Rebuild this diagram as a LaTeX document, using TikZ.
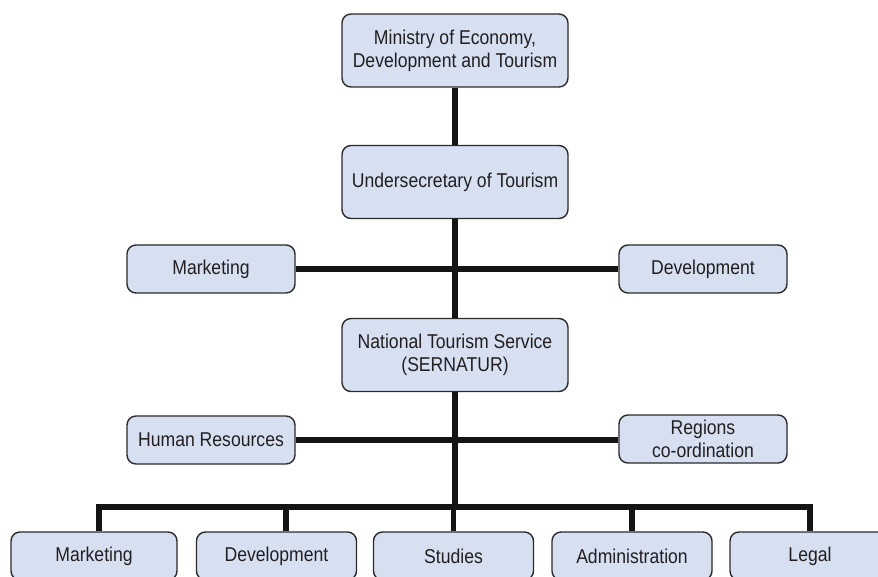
\documentclass[tikz,border=0pt]{standalone}
\usepackage{fontspec}
\setmainfont[FakeStretch=0.88]{Liberation Sans}
\definecolor{boxfill}{HTML}{D6E0F1}
\definecolor{boxline}{HTML}{2B2B2B}
\definecolor{txt}{HTML}{231F20}
\tikzset{
  unit/.style={draw=boxline, fill=boxfill, line width=1.4pt, rounded corners=9pt,
    text=txt, align=center, inner sep=0pt,
    font=\fontsize{20}{23}\selectfont},
  mainunit/.style={unit, minimum width=226pt, minimum height=73pt},
  sideunit/.style={unit, minimum width=168pt, minimum height=48pt},
  lowunit/.style={unit, minimum width=160pt, minimum height=48pt},
  link/.style={line width=5.5pt, draw=black!92, line join=miter}
}
\begin{document}
\begin{tikzpicture}[x=1pt, y=-1pt]
  \useasboundingbox (0,0) rectangle (878,577);
  \clip (0,0) rectangle (878,577);
  \draw
    (455,50.5) node[mainunit] (ministry) {Ministry of Economy,\\Development and Tourism}
    (455,182) node[mainunit] (under) {Undersecretary of Tourism}
    (211,269) node[sideunit] (mkt) {Marketing}
    (703,269) node[sideunit] (dev) {Development}
    (455,355) node[mainunit] (sernatur) {National Tourism Service\\(SERNATUR)}
    (211,440) node[sideunit] (hr) {Human Resources}
    (703,439) node[sideunit] (regions) {Regions\\co-ordination}
    (94,556) node[lowunit, minimum width=166pt] (lmkt) {Marketing}
    (276.5,556) node[lowunit] (ldev) {Development}
    (453.5,556) node[lowunit] (lstudies) {Studies}
    (632,556) node[lowunit] (ladmin) {Administration}
    (810,556) node[lowunit] (llegal) {Legal};
  \coordinate (bus) at (455,507);
  \begin{scope}[link]
    \draw (ministry) to (under);
    \draw (under) to (sernatur);
    \draw (mkt) to (dev);
    \draw (sernatur) to (bus);
    \draw (hr.east) to (hr.east -| regions.west);
    \draw ([xshift=5pt]lmkt.north) |- (bus) -| (llegal.north);
    \draw ([xshift=9.5pt]ldev.north) -- ([xshift=9.5pt]ldev.north |- bus);
    \draw (lstudies.north) -- (lstudies.north |- bus);
    \draw (ladmin.north) -- (ladmin.north |- bus);
  \end{scope}
\end{tikzpicture}
\end{document}
